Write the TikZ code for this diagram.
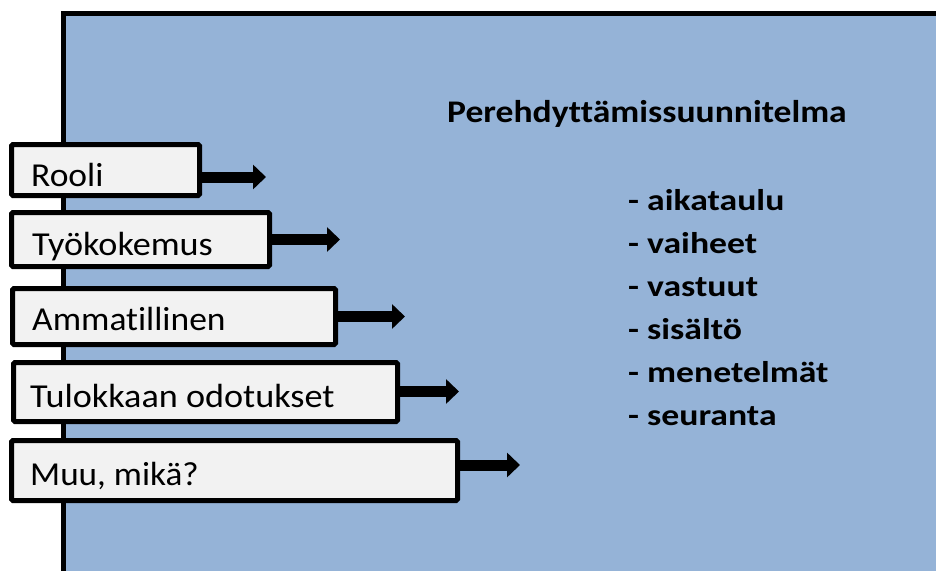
\documentclass[tikz,border=0pt]{standalone}
\usepackage{fontspec}
\setmainfont{Carlito}[Ligatures={NoCommon,NoRequired,NoContextual}]
\usetikzlibrary{arrows.meta}
\definecolor{slideblue}{HTML}{95B3D7}
\definecolor{boxgray}{HTML}{F2F2F2}
\newcommand\widen[2]{\scalebox{#1}[1]{#2}}
\begin{document}
\begin{tikzpicture}[x=1pt,y=-1pt,
  slide/.style={draw=black, line width=5pt, fill=slideblue, inner sep=0pt, anchor=north west},
  box/.style={draw=black, line width=5pt, fill=boxgray, rounded corners=1.5pt, inner sep=0pt, anchor=north west},
  boxtext/.style={anchor=base west, inner sep=0pt, font=\fontsize{33.5}{40}\selectfont},
  titletext/.style={anchor=base west, inner sep=0pt, font=\bfseries\fontsize{31.5}{38}\selectfont},
  listtext/.style={anchor=base west, inner sep=0pt, font=\bfseries\fontsize{30}{36}\selectfont},
  conn/.style={line width=11pt, -{Triangle[length=13pt,width=24pt]}}]
\useasboundingbox (0,0) rectangle (936,570);
\clip (0,0) rectangle (936,570);
\node[slide, minimum width=1200pt, minimum height=800pt] (bg) at (60.5,10.5) {};
% boxes
\node[box, minimum width=188pt, minimum height=51pt] (rooli) at (9,142) {};
\node[box, minimum width=258pt, minimum height=54pt] (tyo) at (9,210) {};
\node[box, minimum width=323pt, minimum height=56pt] (amm) at (10,286) {};
\node[box, minimum width=384pt, minimum height=59pt] (tul) at (11,360) {};
\node[box, minimum width=446pt, minimum height=60pt] (muu) at (9,438) {};
% box texts
\node[boxtext] (trooli) at (31,186.5) {\widen{1.06}{Rooli}};
\node[boxtext] (ttyo) at (32,255) {\widen{1.08}{Työkokemus}};
\node[boxtext] (tamm) at (32,330) {\widen{1.06}{Ammatillinen}};
\node[boxtext] (ttul) at (30,407) {\widen{1.08}{Tulokkaan odotukset}};
\node[boxtext] (tmuu) at (30,485) {\widen{1.05}{Muu, mikä?}};
% arrow tips
\coordinate (a1) at (266,177);
\coordinate (a2) at (340,239.5);
\coordinate (a3) at (405,316.5);
\coordinate (a4) at (459,391.5);
\coordinate (a5) at (520,465);
\draw[conn] (rooli.east |- a1) -- (a1);
\draw[conn] (tyo.east |- a2) -- (a2);
\draw[conn] (amm.east |- a3) -- (a3);
\draw[conn] (tul.east |- a4) -- (a4);
\draw[conn] (muu.east |- a5) -- (a5);
% title and list
\node[titletext] (title) at (447,122.5) {\widen{1.13}{Perehdyttämissuunnitelma}};
\node[listtext] (l1) at (628,210) {\widen{1.19}{- aikataulu}};
\node[listtext] (l2) at (628,253) {\widen{1.19}{- vaiheet}};
\node[listtext] (l3) at (628,296) {\widen{1.19}{- vastuut}};
\node[listtext] (l4) at (628,339) {\widen{1.19}{- sisältö}};
\node[listtext] (l5) at (628,382) {\widen{1.19}{- menetelmät}};
\node[listtext] (l6) at (628,425) {\widen{1.19}{- seuranta}};
\end{tikzpicture}
\end{document}
